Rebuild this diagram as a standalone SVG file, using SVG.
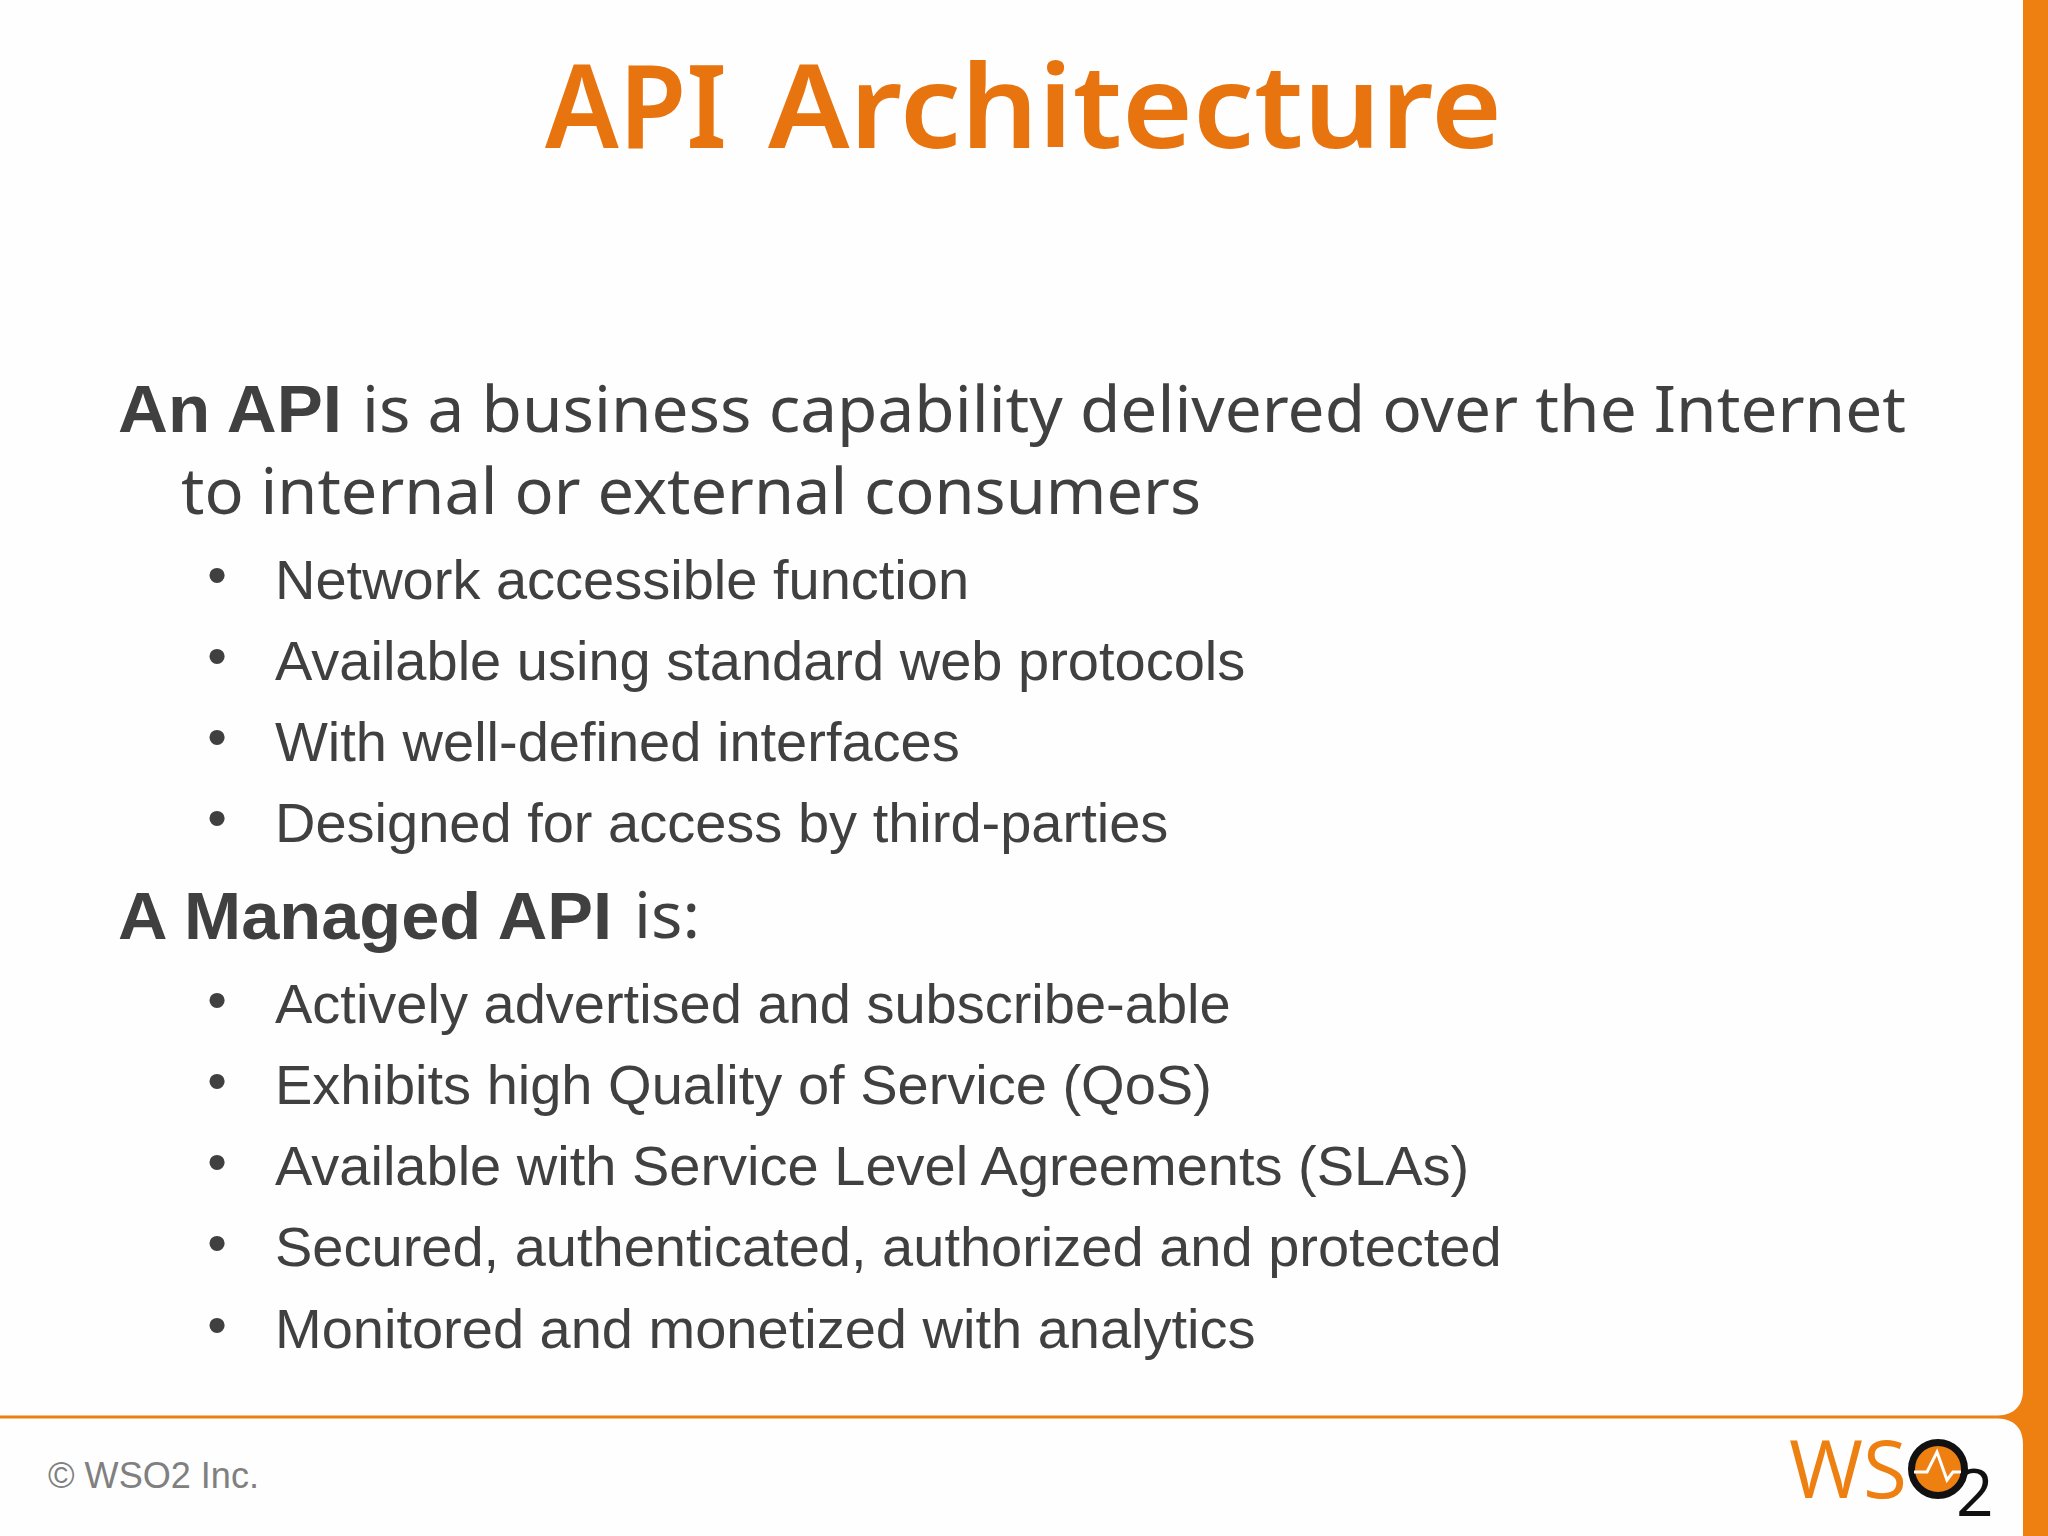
<svg xmlns="http://www.w3.org/2000/svg" width="2048" height="1536" viewBox="0 0 2048 1536">
<style>
.t{font-family:"Noto Sans","DejaVu Sans",sans-serif;fill:#404040;font-size:63px}
.b{font-family:"Liberation Sans",Arial,sans-serif;fill:#404040;font-size:56px}
.h{font-family:"Liberation Sans",Arial,sans-serif;fill:#404040;font-size:66px;font-weight:bold}
</style>
<rect width="2048" height="1536" fill="#fefefe"/>
<path d="M2023 0H2048V1536H2023V1444C2023 1428 2014 1419 1998 1418.500H0V1415.500H1998C2014 1415 2023 1406 2023 1390Z" fill="#ee7f11"/>
<text y="148" font-family="'Noto Sans',sans-serif" font-weight="600" font-size="116" fill="#e8740f"><tspan x="545" textLength="182" lengthAdjust="spacingAndGlyphs">API</tspan> <tspan x="768" textLength="734" lengthAdjust="spacingAndGlyphs">Architecture</tspan></text>
<text class="h" x="118" y="432" textLength="224" lengthAdjust="spacingAndGlyphs">An API</text>
<text class="t" x="362" y="432" textLength="1544" lengthAdjust="spacingAndGlyphs">is a business capability delivered over the Internet</text>
<text class="t" x="181" y="514" textLength="1020" lengthAdjust="spacingAndGlyphs">to internal or external consumers</text>
<g id="bullets-api">
<text class="b" x="217" y="594" text-anchor="middle">•</text><text class="b" x="275" y="599">Network accessible function</text>
<text class="b" x="217" y="675" text-anchor="middle">•</text><text class="b" x="275" y="680">Available using standard web protocols</text>
<text class="b" x="217" y="756" text-anchor="middle">•</text><text class="b" x="275" y="761">With well-defined interfaces</text>
<text class="b" x="217" y="837" text-anchor="middle">•</text><text class="b" x="275" y="842">Designed for access by third-parties</text>
</g>
<text class="h" x="118" y="939" textLength="494" lengthAdjust="spacingAndGlyphs">A Managed API</text>
<text class="t" x="634" y="938" textLength="66" lengthAdjust="spacingAndGlyphs">is:</text>
<g id="bullets-managed">
<text class="b" x="217" y="1019" text-anchor="middle">•</text><text class="b" x="275" y="1023">Actively advertised and subscribe-able</text>
<text class="b" x="217" y="1100" text-anchor="middle">•</text><text class="b" x="275" y="1104">Exhibits high Quality of Service (QoS)</text>
<text class="b" x="217" y="1181" text-anchor="middle">•</text><text class="b" x="275" y="1185">Available with Service Level Agreements (SLAs)</text>
<text class="b" x="217" y="1262" text-anchor="middle">•</text><text class="b" x="275" y="1266">Secured, authenticated, authorized and protected</text>
<text class="b" x="217" y="1344" text-anchor="middle">•</text><text class="b" x="275" y="1348">Monitored and monetized with analytics</text>
</g>
<text x="48" y="1488" font-family="'Liberation Sans',Arial,sans-serif" font-size="37" fill="#808080" textLength="211" lengthAdjust="spacingAndGlyphs">© WSO2 Inc.</text>
<g id="logo">
<text x="1789" y="1498" font-family="'Open Sans',sans-serif" font-size="80" fill="#ee7f11" textLength="118" lengthAdjust="spacingAndGlyphs">WS</text>
<circle cx="1938" cy="1469" r="26.500" fill="#ee7f11" stroke="#111" stroke-width="7"/>
<path d="M1914 1472H1927L1937 1452L1947 1480L1953 1472H1961" fill="none" stroke="#fff" stroke-width="3"/>
<text x="1956" y="1516" font-family="'Open Sans',sans-serif" font-size="66" fill="#111">2</text>
</g>
</svg>
